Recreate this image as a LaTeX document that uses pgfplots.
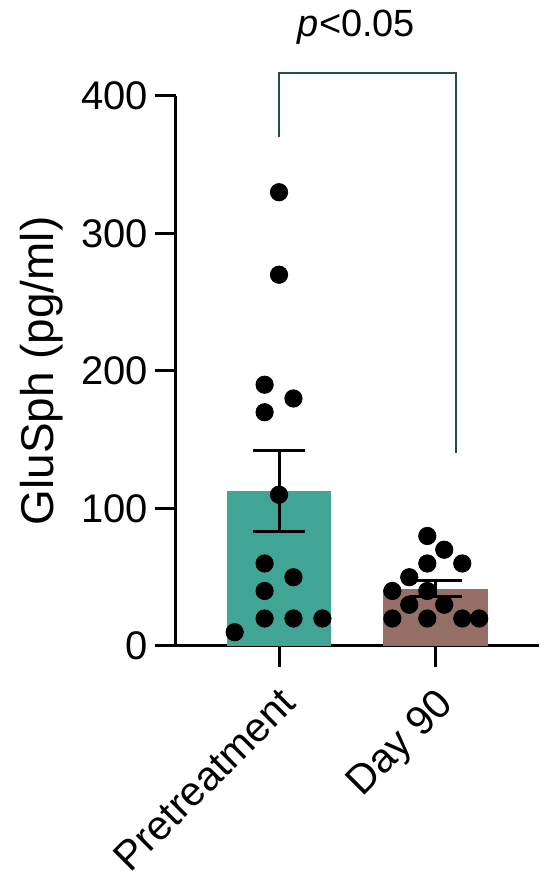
\documentclass[border=0pt]{standalone}
\usepackage{fontspec}
\setmainfont{Liberation Sans}
\usepackage{pgfplots}
\pgfplotsset{compat=1.18}

\definecolor{pretreat}{HTML}{41A596}
\definecolor{dayninety}{HTML}{956F66}
\definecolor{bracket}{HTML}{1F4F55}

\begin{document}
\begin{tikzpicture}
\begin{axis}[
    scale only axis,
    width=182pt, height=275.5pt,
    xmin=-0.659, xmax=1.659,
    ymin=0, ymax=400,
    enlargelimits=false,
    clip=false,
    axis x line=bottom,
    axis y line=left,
    axis line style={-, line width=1.5pt},
    tick style={line width=1.5pt, black},
    tick align=outside,
    major tick length=10.5pt,
    xtick={0,1},
    xticklabels={Pretreatment, Day 90},
    ytick={0,100,200,300,400},
    minor tick num=0,
    /pgf/number format/assume math mode=true,
    tick label style={font=\fontsize{20}{24}\selectfont},
    xticklabel style={font=\fontsize{20.5}{24}\selectfont, rotate=45, anchor=north east,
        inner sep=2pt, xshift=-5pt, yshift=-4pt},
    ylabel={GluSph (pg/ml)},
    ylabel style={font=\fontsize{23}{27}\selectfont, yshift=2pt},
]
% bars (group means)
\addplot[ybar, bar shift=0pt, bar width=52.5pt, fill=pretreat, draw=none] coordinates {(0,113)};
\addplot[ybar, bar shift=0pt, bar width=52.5pt, fill=dayninety, draw=none] coordinates {(1,41.5)};

% SEM error bars
\addplot[draw=none, mark=none, forget plot,
    error bars/.cd, y dir=both, y explicit,
    error bar style={line width=1.5pt, black},
    error mark options={rotate=90, mark size=13.25pt, line width=1.5pt, black}]
    coordinates {(0,113) +- (0,29.5) (1,41.5) +- (0,5.8)};

% individual values
\addplot[only marks, mark=*, mark size=4.35pt, black] coordinates {
    (0,330) (0,270) (-0.092,190) (0.092,180) (-0.092,170) (0,110)
    (-0.092,60) (0.092,50) (-0.092,40)
    (-0.092,20) (0.092,20) (0.277,20) (-0.283,10)
};
\addplot[only marks, mark=*, mark size=4.35pt, black] coordinates {
    (0.946,80) (1.054,70) (0.946,60) (1.169,60) (0.831,50)
    (0.723,40) (0.946,40) (0.831,30) (1.054,30)
    (0.723,20) (0.946,20) (1.169,20) (1.277,20)
};

% significance bracket
\draw[bracket, line width=1pt] (axis cs:0,370) |- (axis cs:1.13,416.7) -- (axis cs:1.13,140);
\node[font=\fontsize{19}{23}\selectfont] at (axis cs:0.494,450) {\textit{p}<0.05};

\coordinate (bl) at (axis cs:-1.780,-165.1);
\coordinate (tr) at (axis cs:1.666,469.8);
\end{axis}
\pgfresetboundingbox
\path[use as bounding box] (bl) rectangle (tr);
\end{tikzpicture}
\end{document}
